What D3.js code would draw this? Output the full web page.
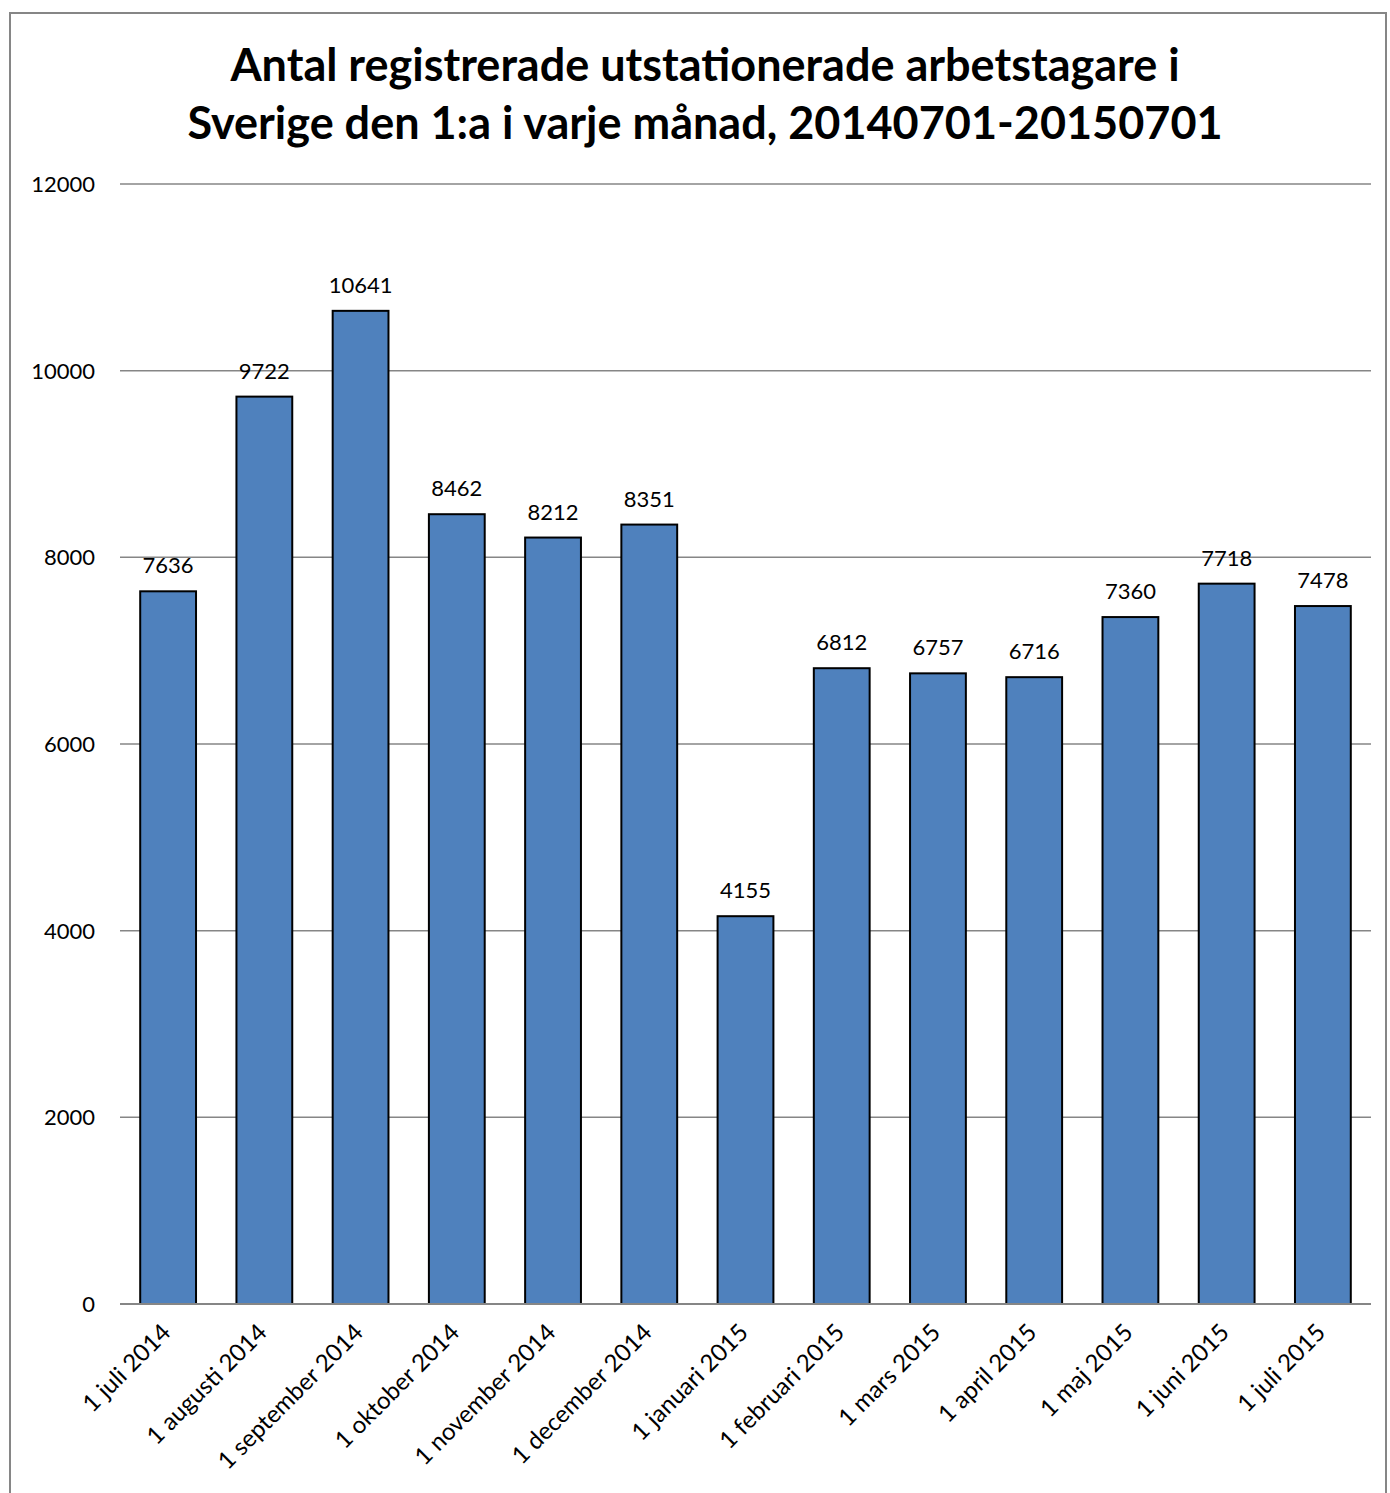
<!DOCTYPE html>
<html>
<head>
<meta charset="utf-8">
<script src="https://cdn.jsdelivr.net/npm/d3@7"></script>
<style>
  body { margin: 0; background: #fff; }
  text { font-family: Lato, "Open Sans", sans-serif; fill: #000; }
</style>
</head>
<body>
<div id="chart"></div>
<script>
const months = ["1 juli  2014", "1 augusti 2014", "1 september 2014", "1 oktober 2014",
  "1 november 2014", "1 december 2014", "1 januari 2015", "1 februari 2015",
  "1 mars 2015", "1 april 2015", "1 maj 2015", "1 juni 2015", "1 juli 2015"];
const workers = [7636, 9722, 10641, 8462, 8212, 8351, 4155, 6812, 6757, 6716, 7360, 7718, 7478];
const yTicks = [0, 2000, 4000, 6000, 8000, 10000, 12000];
const titleLines = ["Antal registrerade utstationerade arbetstagare i",
  "Sverige den 1:a i varje månad, 20140701-20150701"];

const W = 1390, H = 1493;
const margin = { top: 184, right: 19, bottom: 189, left: 120 };
const width = W - margin.left - margin.right;
const height = H - margin.top - margin.bottom;

const svg = d3.select("#chart").append("svg")
    .attr("width", W)
    .attr("height", H);

// outer frame
svg.append("rect")
    .attr("x", 10).attr("y", 13)
    .attr("width", 1376).attr("height", 1500)
    .attr("fill", "none")
    .attr("stroke", "#868686")
    .attr("stroke-width", 2);

svg.selectAll(".title")
    .data(titleLines)
    .join("text")
    .attr("class", "title")
    .attr("x", 705)
    .attr("y", (d, i) => 81 + i * 58)
    .attr("text-anchor", "middle")
    .style("font-size", "45px")
    .style("font-weight", "bold")
    .text(d => d);

const g = svg.append("g")
    .attr("transform", `translate(${margin.left},${margin.top})`);

const x = d3.scaleBand().domain(months).range([0, width]).paddingInner(0.42).paddingOuter(0.21);
const y = d3.scaleLinear().domain([0, 12000]).range([height, 0]);

// gridlines
g.selectAll(".grid")
    .data(yTicks.filter(d => d > 0))
    .join("line")
    .attr("class", "grid")
    .attr("x1", 0).attr("x2", width)
    .attr("y1", d => y(d)).attr("y2", d => y(d))
    .attr("stroke", "#868686")
    .attr("stroke-width", 1.5);

// y labels
g.selectAll(".ylab")
    .data(yTicks)
    .join("text")
    .attr("class", "ylab")
    .attr("x", -25)
    .attr("y", d => y(d) + 8)
    .attr("text-anchor", "end")
    .style("font-size", "22px")
    .text(d => d);

// bars
g.selectAll(".bar")
    .data(workers)
    .join("rect")
    .attr("class", "bar")
    .attr("x", (d, i) => x(months[i]))
    .attr("y", d => y(d))
    .attr("width", x.bandwidth())
    .attr("height", d => height - y(d))
    .attr("fill", "#4f81bd")
    .attr("stroke", "#000")
    .attr("stroke-width", 2);

// value labels
g.selectAll(".val")
    .data(workers)
    .join("text")
    .attr("class", "val")
    .attr("x", (d, i) => x(months[i]) + x.bandwidth() / 2)
    .attr("y", d => y(d) - 18)
    .attr("text-anchor", "middle")
    .style("font-size", "22px")
    .text(d => d);

// baseline
g.append("line")
    .attr("x1", 0).attr("x2", width)
    .attr("y1", height).attr("y2", height)
    .attr("stroke", "#868686")
    .attr("stroke-width", 2);

// category labels
g.selectAll(".xlab")
    .data(months)
    .join("text")
    .attr("class", "xlab")
    .attr("text-anchor", "end")
    .attr("transform", d => `translate(${x(d) + x.bandwidth() / 2 + 4},${height + 30}) rotate(-45)`)
    .style("font-size", "24px")
    .text(d => d);
</script>
</body>
</html>
